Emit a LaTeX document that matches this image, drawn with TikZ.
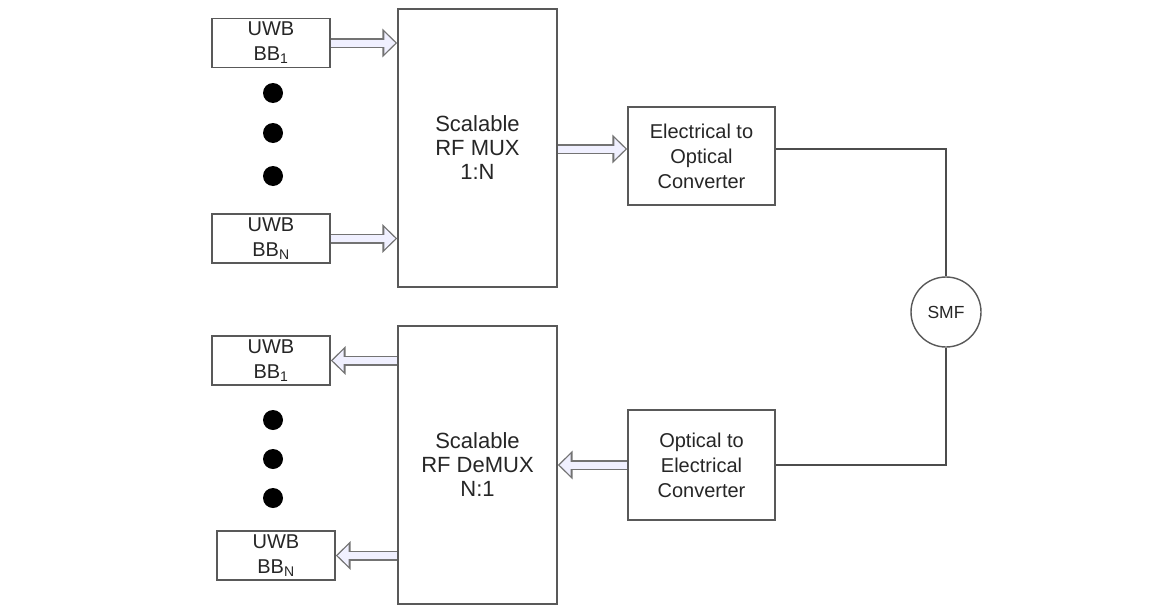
\documentclass[tikz,border=0pt]{standalone}
\usepackage{fontspec}
\setmainfont{Liberation Sans}
\usetikzlibrary{arrows.meta, positioning, calc}

\tikzset{
  blk/.style={draw=black!65, line width=1.4pt, fill=white, align=center,
    inner sep=0pt, text=black!85, font=\fontsize{20}{25}\selectfont},
  bigblk/.style={blk, minimum width=159pt, minimum height=278pt,
    font=\fontsize{22}{24}\selectfont},
  bbblk/.style={blk, minimum width=118pt, minimum height=49pt},
  fatarrow/.style={draw=blue!6, line width=7pt,
    -{Triangle[length=11pt, width=21pt]}, shorten >=2pt,
    preaction={draw=black!55, line width=10pt,
      -{Triangle[length=15pt, width=28pt]}, shorten >=0pt}},
  fibre/.style={draw=black!70, line width=1.3pt}
}

\begin{document}
\begin{tikzpicture}[x=1pt, y=-1pt]
  \useasboundingbox (0,0) rectangle (1151,605);

  % Transmit side
  \node[bbblk] (bbA1) at (271,43) {UWB\\BB\textsubscript{1}};
  \node[bbblk] (bbAN) at (271,238.5) {UWB\\BB\textsubscript{N}};
  \node[bigblk] (mux) at (477.5,148) {Scalable\\RF MUX\\1:N};
  \node[blk, minimum width=147pt, minimum height=98pt] (eo) at (701.5,156)
    {Electrical to\\Optical\\Converter};

  % Receive side
  \node[bbblk] (bbB1) at (271,360.5) {UWB\\BB\textsubscript{1}};
  \node[bbblk] (bbBN) at (276,555.5) {UWB\\BB\textsubscript{N}};
  \node[bigblk] (demux) at (477.5,465) {Scalable\\RF DeMUX\\N:1};
  \node[blk, minimum width=147pt, minimum height=110pt] (oe) at (701.5,465)
    {Optical to\\Electrical\\Converter};

  % Fibre
  \node[blk, circle, minimum size=70pt, font=\fontsize{17.5}{20}\selectfont] (smf) at (946,312) {SMF};
  \coordinate (cTop) at (smf.north |- 0,149);
  \coordinate (cBot) at (smf.south |- oe.east);

  % Dots
  \foreach \n/\y in {1/93, 2/133, 3/176, 4/420, 5/459, 6/498} {
    \fill (273,\y) circle (10pt) node (dot\n) {};
  }

  % Arrows
  \draw[fatarrow] (bbA1.east) -- (mux.west |- bbA1.east);
  \draw[fatarrow] (bbAN.east) -- (mux.west |- bbAN.east);
  \draw[fatarrow] (mux.east |- cTop) -- (eo.west |- cTop);
  \draw[fatarrow] (demux.west |- bbB1.east) -- (bbB1.east);
  \draw[fatarrow] (demux.west |- bbBN.east) -- (bbBN.east);
  \draw[fatarrow] (oe.west) -- (demux.east |- oe.west);

  \draw[fibre] (eo.east |- cTop) -- (cTop) -- (smf.north);
  \draw[fibre] (smf.south) -- (cBot) -- (oe.east);
\end{tikzpicture}
\end{document}
